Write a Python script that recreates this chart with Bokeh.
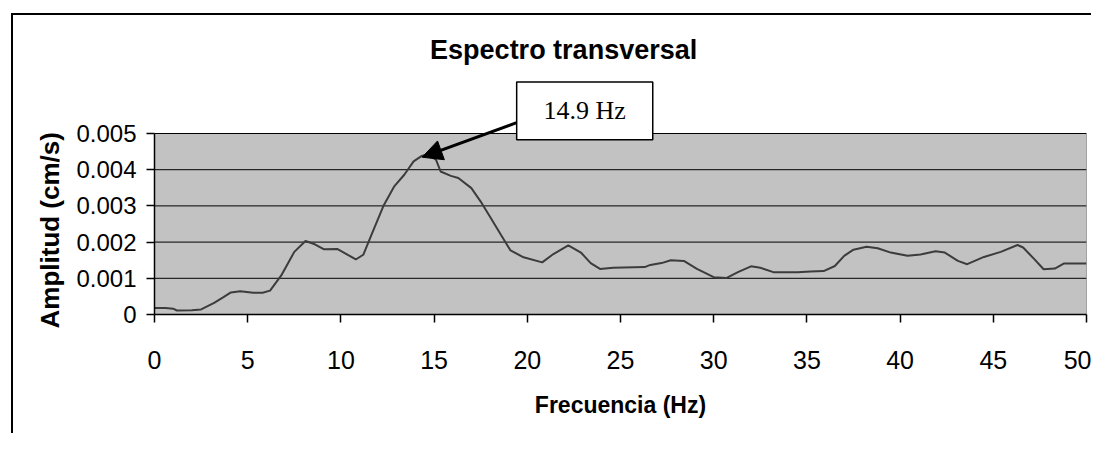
from bokeh.plotting import figure
from bokeh.models import Range1d, FixedTicker, Label, Arrow, NormalHead, Title
from bokeh.embed import file_html
from bokeh.resources import INLINE

# ---------------- data ----------------
freq = [0, 0.6, 1.0, 1.2, 2.0, 2.5, 3.2, 3.7, 4.1, 4.6, 5.3, 5.8, 6.2, 6.8, 7.5,
        8.1, 8.6, 9.1, 9.8, 10.3, 10.8, 11.2, 11.6, 12.3, 12.85, 13.4, 13.9,
        14.3, 14.6, 15.1, 15.35, 15.9, 16.3, 17.0, 17.5, 18.0, 18.6, 19.1,
        19.8, 20.8, 21.4, 22.2, 22.9, 23.4, 23.9, 24.6, 26.3, 26.6, 27.2,
        27.7, 28.4, 29.1, 30.0, 30.7, 31.3, 32.0, 32.5, 33.2, 34.5, 35.2,
        35.9, 36.5, 37.0, 37.5, 38.2, 38.8, 39.5, 40.4, 41.1, 41.9, 42.4,
        43.1, 43.6, 44.5, 45.4, 46.3, 46.6, 47.2, 47.7, 48.3, 48.8, 50.0]
amp = [0.00018, 0.00018, 0.00016, 0.00011, 0.00012, 0.00014, 0.00032, 0.00048,
       0.00061, 0.00064, 0.00060, 0.00060, 0.00066, 0.00108, 0.00173, 0.00203,
       0.00194, 0.00180, 0.00181, 0.00167, 0.00152, 0.00165, 0.00215, 0.00302,
       0.00353, 0.00386, 0.00423, 0.00437, 0.00442, 0.00428, 0.00395, 0.00383,
       0.00377, 0.00349, 0.00312, 0.00270, 0.00219, 0.00177, 0.00158, 0.00144,
       0.00167, 0.00191, 0.00170, 0.00142, 0.00126, 0.00129, 0.00131, 0.00137,
       0.00142, 0.00150, 0.00148, 0.00126, 0.00103, 0.00101, 0.00117, 0.00133,
       0.00129, 0.00117, 0.00117, 0.00119, 0.00120, 0.00134, 0.00162, 0.00179,
       0.00187, 0.00183, 0.00171, 0.00162, 0.00166, 0.00175, 0.00171, 0.00148,
       0.00139, 0.00159, 0.00173, 0.00192, 0.00185, 0.00153, 0.00125, 0.00127,
       0.00141, 0.00141]

x_ticks = [0, 5, 10, 15, 20, 25, 30, 35, 40, 45, 50]
y_ticks = [0, 0.001, 0.002, 0.003, 0.004, 0.005]
y_tick_labels = ["0", "0.001", "0.002", "0.003", "0.004", "0.005"]

title_text = "Espectro transversal"
x_label = "Frecuencia (Hz)"
y_label = "Amplitud (cm/s)"
note_text = "14.9 Hz"

# ---------------- layout ----------------
X0, X1 = x_ticks[0], x_ticks[-1]
Y0, Y1 = y_ticks[0], y_ticks[-1]
W, H = 1080, 420
PLOT_H = 181            # pixel height of the 0..0.005 plot area
FRAME_H = 299           # frame extends above the plot area (title, note box)
y_top = Y1 * FRAME_H / PLOT_H

p = figure(width=W, height=H, output_backend="svg", toolbar_location=None,
           x_range=Range1d(X0, X1), y_range=Range1d(Y0, y_top),
           min_border_left=141, min_border_right=7,
           min_border_top=0, min_border_bottom=H - FRAME_H,
           styles={"border-left": "2px solid black",
                   "border-top": "2px solid black",
                   "border-right": "none", "border-bottom": "none",
                   "margin-left": "11px", "margin-top": "13px"})

p.background_fill_color = "white"
p.border_fill_color = "white"
p.outline_line_color = None
p.xgrid.visible = False
p.ygrid.visible = False

# plot area (grey) and horizontal grid lines
p.quad(left=[X0], right=[X1], bottom=[Y0], top=[Y1],
       fill_color="#c2c2c2", line_color="#555555", line_width=1)
p.segment(x0=[X0] * (len(y_ticks) - 1), x1=[X1] * (len(y_ticks) - 1),
          y0=y_ticks[1:], y1=y_ticks[1:], line_color="black", line_width=1)

# spectrum
p.line(freq, amp, line_color="#3c3c3c", line_width=2)

FONT = "Liberation Sans"

# x axis
xa = p.xaxis[0]
xa.ticker = FixedTicker(ticks=x_ticks)
xa.axis_line_color = "black"
xa.axis_line_width = 1.5
xa.major_tick_line_color = "black"
xa.major_tick_line_width = 1.5
xa.major_tick_out = 8
xa.major_tick_in = 0
xa.minor_tick_line_color = None
xa.major_label_text_font = FONT
xa.major_label_text_font_size = "25px"
xa.major_label_text_color = "black"
xa.major_label_standoff = 28
xa.axis_label = x_label
xa.axis_label_text_font = FONT
xa.axis_label_text_font_size = "23px"
xa.axis_label_text_font_style = "bold"
xa.axis_label_text_color = "black"
xa.axis_label_standoff = 20

# y axis (only along the plot area)
ya = p.yaxis[0]
ya.bounds = (Y0, Y1)
ya.ticker = FixedTicker(ticks=y_ticks)
ya.major_label_overrides = {v: s for v, s in zip(y_ticks, y_tick_labels)}
ya.axis_line_color = "black"
ya.axis_line_width = 1.5
ya.major_tick_line_color = "black"
ya.major_tick_line_width = 1.5
ya.major_tick_out = 8
ya.major_tick_in = 0
ya.minor_tick_line_color = None
ya.major_label_text_font = FONT
ya.major_label_text_font_size = "24px"
ya.major_label_text_color = "black"
ya.major_label_standoff = 10

# y axis title, anchored near the bottom end of the side panel
p.add_layout(Title(text=y_label, align="left", offset=-14,
                   text_font=FONT, text_font_size="26px",
                   text_font_style="bold", text_color="black",
                   standoff=18), "left")

# chart title
p.add_layout(Label(x=21.95, y=0.007293, text=title_text,
                   text_font=FONT, text_font_size="27px",
                   text_font_style="bold", text_color="black",
                   text_align="center", text_baseline="middle"))

# note box with arrow to the peak
peak_i = amp.index(max(amp))
p.quad(left=[19.43], right=[26.73], bottom=[0.00483], top=[0.00642],
       fill_color="white", line_color="black", line_width=1.5)
p.add_layout(Label(x=23.08, y=0.005624, text=note_text,
                   text_font="Liberation Serif", text_font_size="26px",
                   text_color="black", text_align="center",
                   text_baseline="middle"))
p.add_layout(Arrow(x_start=19.43, y_start=0.0053,
                   x_end=freq[peak_i] - 0.24, y_end=amp[peak_i] - 0.000075,
                   line_color="black", line_width=3,
                   end=NormalHead(size=20, fill_color="black",
                                  line_color="black", line_width=1)))

open("out.html", "w").write(file_html(p, INLINE))
